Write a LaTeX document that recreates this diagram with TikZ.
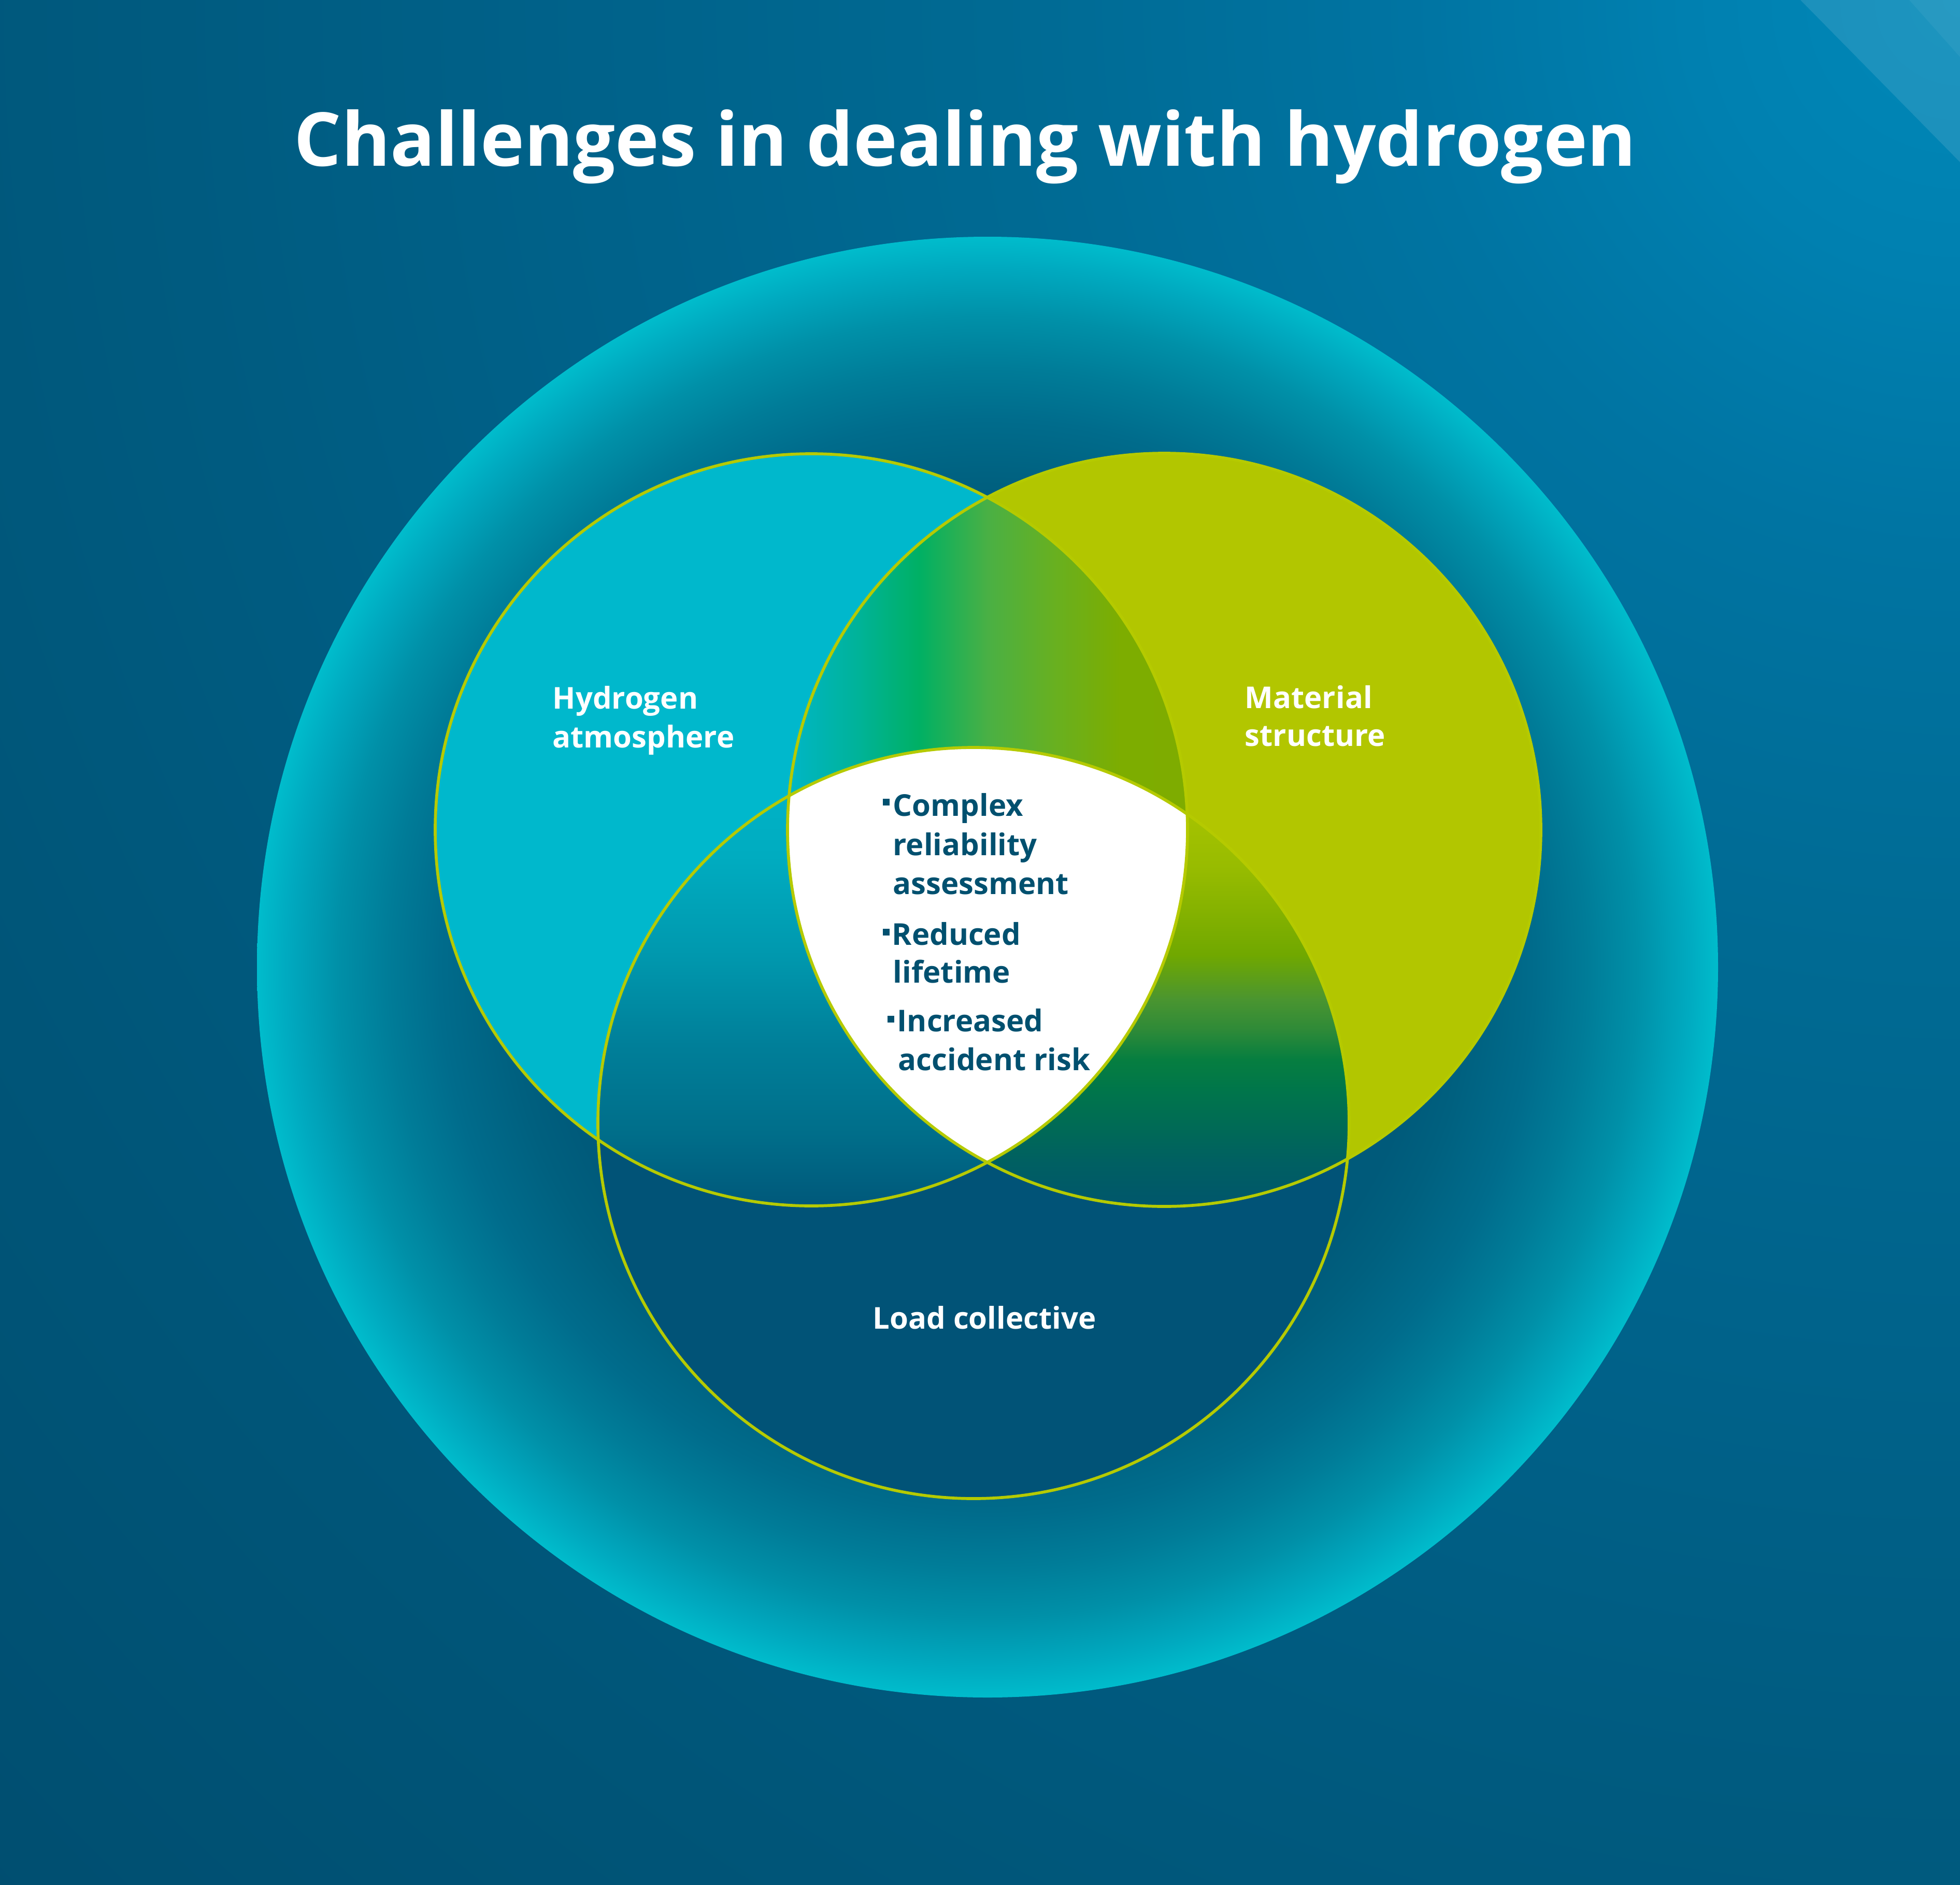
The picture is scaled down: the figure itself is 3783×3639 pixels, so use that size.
\documentclass[tikz,border=0pt]{standalone}
\usepackage{fontspec}
\setmainfont{Open Sans}
\usepackage{graphicx}
\definecolor{bg0}{HTML}{0088B8}
\definecolor{bg1}{HTML}{0080B0}
\definecolor{bg2}{HTML}{0074A2}
\definecolor{bg3}{HTML}{006A93}
\definecolor{bg4}{HTML}{00628A}
\definecolor{bg5}{HTML}{005B80}
\definecolor{bg6}{HTML}{005578}
\definecolor{bg7}{HTML}{004E70}
\definecolor{gl0}{HTML}{005676}
\definecolor{gl1}{HTML}{005A7A}
\definecolor{gl2}{HTML}{00607F}
\definecolor{gl3}{HTML}{006C8C}
\definecolor{gl4}{HTML}{007C98}
\definecolor{gl5}{HTML}{0090A8}
\definecolor{gl6}{HTML}{00AAC0}
\definecolor{gl7}{HTML}{00BCCC}
\definecolor{lb0}{HTML}{00587A}
\definecolor{lb1}{HTML}{006E8A}
\definecolor{lb2}{HTML}{007F99}
\definecolor{lb3}{HTML}{0098AE}
\definecolor{lb4}{HTML}{00ACC0}
\definecolor{lb5}{HTML}{00B6CA}
\definecolor{rb0}{HTML}{00566C}
\definecolor{rb1}{HTML}{005F62}
\definecolor{rb2}{HTML}{006858}
\definecolor{rb3}{HTML}{00764A}
\definecolor{rb4}{HTML}{067E40}
\definecolor{rb5}{HTML}{2E8A38}
\definecolor{rb6}{HTML}{4A9530}
\definecolor{rb7}{HTML}{70A800}
\definecolor{rb8}{HTML}{85B200}
\definecolor{rb9}{HTML}{98BC00}
\definecolor{rb10}{HTML}{A3C100}
\definecolor{rb11}{HTML}{B0C600}
\definecolor{lr0}{HTML}{00B8C8}
\definecolor{lr1}{HTML}{00B5BC}
\definecolor{lr2}{HTML}{00B39A}
\definecolor{lr3}{HTML}{00B064}
\definecolor{lr4}{HTML}{4AB044}
\definecolor{lr5}{HTML}{68B020}
\definecolor{lr6}{HTML}{7DAD00}
\definecolor{lr7}{HTML}{7EAC00}
\definecolor{cyanL}{HTML}{00B8CC}
\definecolor{limeR}{HTML}{B2C600}
\definecolor{darkB}{HTML}{015377}
\definecolor{olc}{HTML}{B5CA00}
\definecolor{bodyc}{HTML}{00506F}
\pgfdeclareradialshading{bgrad}{\pgfpoint{0bp}{0bp}}{color(0bp)=(bg0); color(2.5bp)=(bg1); color(5bp)=(bg2); color(8.75bp)=(bg3); color(12.5bp)=(bg4); color(16.25bp)=(bg5); color(20bp)=(bg6); color(25bp)=(bg7); color(50bp)=(bg7)}
\pgfdeclareradialshading{glow}{\pgfpoint{0bp}{0bp}}{color(0bp)=(gl0); color(15bp)=(gl1); color(16.5bp)=(gl2); color(18.75bp)=(gl3); color(20.5bp)=(gl4); color(22.25bp)=(gl5); color(24bp)=(gl6); color(25bp)=(gl7); color(50bp)=(gl7)}
\pgfdeclareverticalshading{lbshade}{100bp}{color(0bp)=(lb0); color(25bp)=(lb0); color(33bp)=(lb1); color(42.6bp)=(lb2); color(52.3bp)=(lb3); color(63bp)=(lb4); color(75bp)=(lb5); color(100bp)=(lb5)}
\pgfdeclareverticalshading{rbshade}{100bp}{color(0bp)=(rb0); color(25bp)=(rb0); color(29.7bp)=(rb1); color(32.9bp)=(rb2); color(37.8bp)=(rb3); color(41bp)=(rb4); color(44.2bp)=(rb5); color(47.5bp)=(rb6); color(52.3bp)=(rb7); color(57.1bp)=(rb8); color(62bp)=(rb9); color(66.8bp)=(rb10); color(75bp)=(rb11); color(100bp)=(rb11)}
\pgfdeclarehorizontalshading{lrshade}{100bp}{color(0bp)=(lr0); color(25bp)=(lr0); color(27bp)=(lr1); color(33.6bp)=(lr2); color(41.5bp)=(lr3); color(50.1bp)=(lr4); color(58.4bp)=(lr5); color(66.6bp)=(lr6); color(75bp)=(lr7); color(100bp)=(lr7)}
\newcommand\lblfont{\fontsize{16.5pt}{21.3pt}\selectfont\bfseries}
\begin{document}
\begin{tikzpicture}[x=0.01cm,y=-0.01cm,
  outl/.style={draw=olc, line width=0.057cm},
  lbl/.style={text=white, font=\lblfont, inner sep=0pt, anchor=base west},
  bod/.style={text=bodyc, font=\lblfont, inner sep=0pt, anchor=base west},
  bullet/.style={fill=bodyc}]
\useasboundingbox (0,0) rectangle (3783,3639);
\coordinate (cL) at (1566,1602);
\coordinate (cR) at (2247,1602);
\coordinate (cB) at (1879,2168);
\coordinate (cO) at (1906,1867);
\coordinate (tr) at (3783,0);
% background
\begin{scope}
 \clip (0,0) rectangle (3783,3639);
 \shade[shading=bgrad] (tr) circle[radius=5300];
 \fill[white, opacity=0.11] (3475,0) -- (3783,0) -- (3783,313) -- cycle;
 \fill[white, opacity=0.05] (3685,0) -- (3783,0) -- (3783,110) -- cycle;
\end{scope}
% glow circle
\shade[shading=glow] (cO) circle[radius=1410];
% base fills
\fill[cyanL] (cL) circle[radius=726];
\fill[limeR] (cR) circle[radius=727];
\fill[darkB] (cB) circle[radius=725];
% left & bottom
\begin{scope}
 \clip (cL) circle[radius=726];
 \clip (cB) circle[radius=725];
 \shade[shading=lbshade] (1150,1440) rectangle (2300,2330);
\end{scope}
% right & bottom
\begin{scope}
 \clip (cR) circle[radius=727];
 \clip (cB) circle[radius=725];
 \shade[shading=rbshade] (1500,1440) rectangle (2610,2330);
\end{scope}
% left & right
\begin{scope}
 \clip (cL) circle[radius=726];
 \clip (cR) circle[radius=727];
 \shade[shading=lrshade] (1520,960) rectangle (2292,2245);
\end{scope}
% triple
\begin{scope}
 \clip (cL) circle[radius=726];
 \clip (cR) circle[radius=727];
 \fill[white] (cB) circle[radius=725];
\end{scope}
% outlines
\draw[outl] (cL) circle[radius=726];
\draw[outl] (cR) circle[radius=727];
\draw[outl] (cB) circle[radius=725];
% title
\node[text=white, inner sep=0pt, anchor=base] (title) at (1863,320)
  {\resizebox{25.89cm}{!}{\fontsize{40pt}{48pt}\selectfont\bfseries Challenges in dealing with hydrogen}};
% labels
\node[lbl] (h1) at (1066,1368) {Hydrogen};
\node[lbl] (h2) at (1066,1443) {atmosphere};
\node[lbl] (m1) at (2402,1367) {Material};
\node[lbl] (m2) at (2402,1440) {structure};
\node[lbl, anchor=base] (lc) at (1900,2565) {Load collective};
% bullets
\fill[bullet] (1704,1542) rectangle (1717,1555);
\fill[bullet] (1704,1793) rectangle (1717,1806);
\fill[bullet] (1713,1961) rectangle (1726,1974);
\node[bod] (b1) at (1723,1575) {Complex};
\node[bod] (b2) at (1723,1651) {reliability};
\node[bod] (b3) at (1723,1726) {assessment};
\node[bod] (b4) at (1721,1824) {Reduced};
\node[bod] (b5) at (1723,1897) {lifetime};
\node[bod] (b6) at (1731,1991) {Increased};
\node[bod] (b7) at (1733,2066) {accident risk};
\end{tikzpicture}
\end{document}
